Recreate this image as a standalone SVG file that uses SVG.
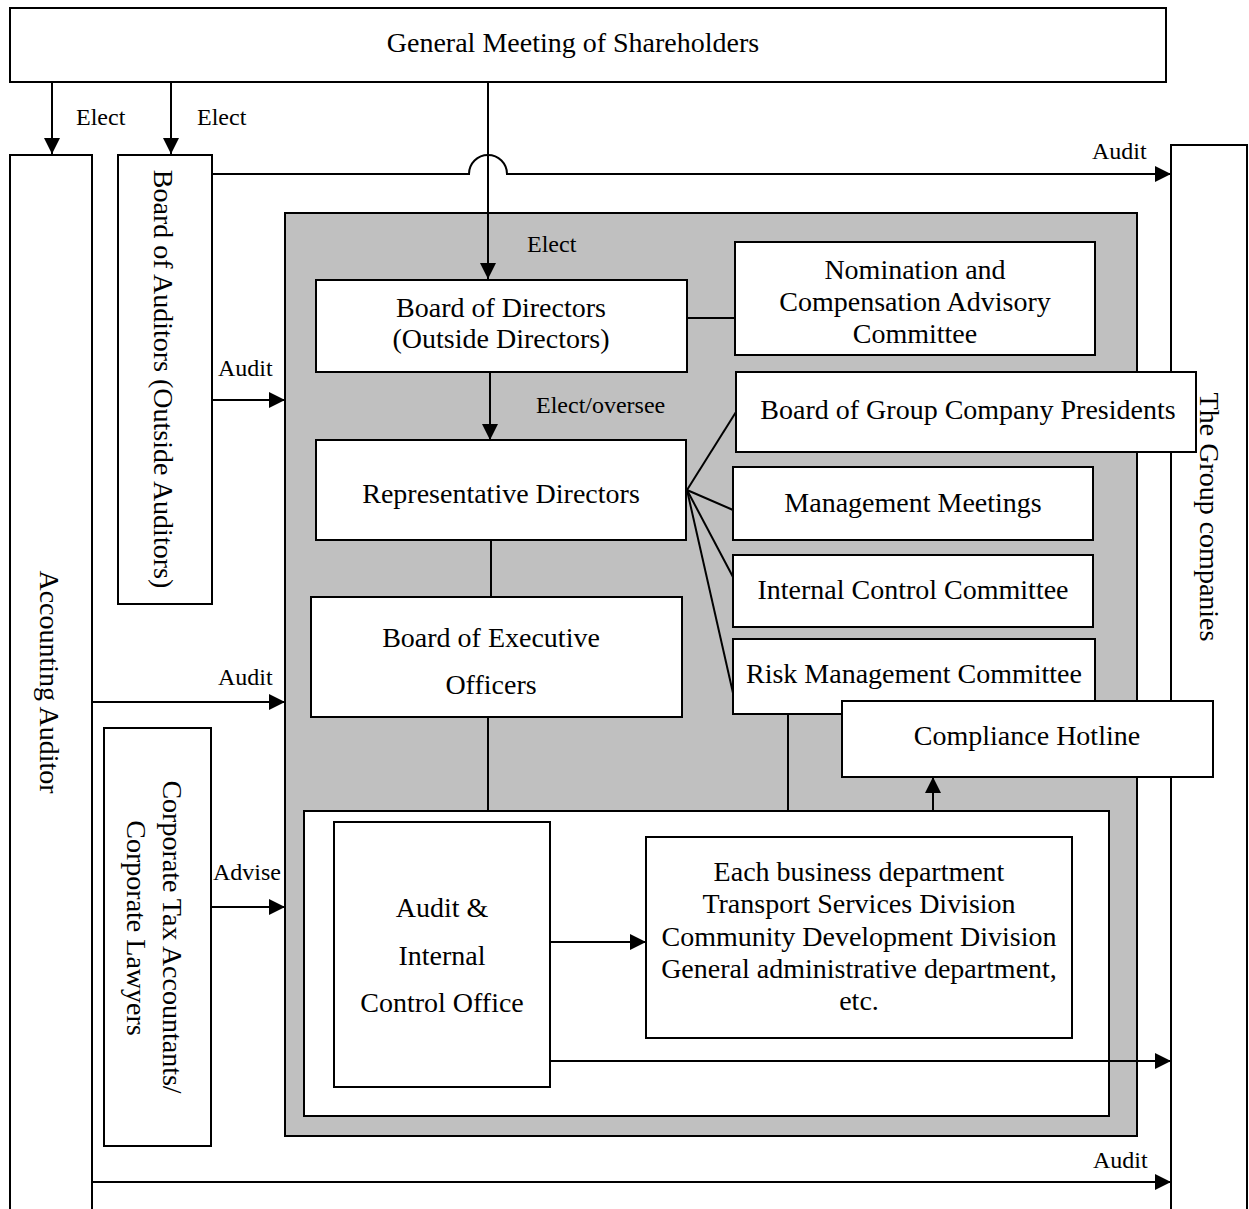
<svg xmlns="http://www.w3.org/2000/svg" width="1249" height="1209" viewBox="0 0 1249 1209">
<style>
  .box { fill: #ffffff; stroke: #000000; stroke-width: 2; }
  .gray { fill: #c0c0c0; stroke: #000000; stroke-width: 2; }
  .ln { fill: none; stroke: #000000; stroke-width: 2; }
  .arr { fill: none; stroke: #000000; stroke-width: 2; marker-end: url(#ah); }
  text { font-family: "Liberation Serif", "Times New Roman", serif; fill: #000000; }
  .big { font-size: 28px; text-anchor: middle; }
  .sm { font-size: 24px; }
</style>
<defs>
  <marker id="ah" markerUnits="userSpaceOnUse" markerWidth="16" markerHeight="16" refX="16" refY="8" orient="auto">
    <path d="M0,0 L16,8 L0,16 z" fill="#000000"/>
  </marker>
</defs>
<rect width="1249" height="1209" fill="#ffffff"/>

<g id="accounting-auditor">
  <rect class="box" x="10" y="155" width="82" height="1070"/>
  <text class="big" transform="translate(40,682) rotate(90)">Accounting Auditor</text>
</g>
<g id="group-companies">
  <rect class="box" x="1171" y="145" width="76" height="1080"/>
  <text class="big" transform="translate(1200,517) rotate(90)">The Group companies</text>
</g>
<g id="board-of-auditors">
  <rect class="box" x="118" y="155" width="94" height="449"/>
  <text class="big" transform="translate(154,379) rotate(90)">Board of Auditors (Outside Auditors)</text>
</g>
<g id="tax-lawyers">
  <rect class="box" x="104" y="728" width="107" height="418"/>
  <text class="big" transform="translate(163,937) rotate(90)">Corporate Tax Accountants/</text>
  <text class="big" transform="translate(127,928) rotate(90)">Corporate Lawyers</text>
</g>
<g id="company">
  <rect class="gray" x="285" y="213" width="852" height="923"/>
</g>
<g id="operations">
  <rect class="box" x="304" y="811" width="805" height="305"/>
</g>
<g id="general-meeting">
  <rect class="box" x="10" y="8" width="1156" height="74"/>
  <text class="big" x="573" y="52">General Meeting of Shareholders</text>
</g>

<g id="connectors">
  <path class="arr" d="M52,82 V154"/>
  <path class="arr" d="M171,82 V154"/>
  <path class="arr" d="M488,82 V279"/>
  <path class="arr" d="M212,174 H469 A19,19 0 0 1 507,174 H1171"/>
  <path class="arr" d="M212,400 H285"/>
  <path class="arr" d="M92,702 H285"/>
  <path class="arr" d="M211,907 H285"/>
  <path class="arr" d="M92,1182 H1171"/>
  <path class="arr" d="M490,372 V440"/>
  <path class="ln" d="M687,318 H735"/>
  <path class="ln" d="M687,490 L736,412"/>
  <path class="ln" d="M687,490 L733,510"/>
  <path class="ln" d="M687,490 L733,577"/>
  <path class="ln" d="M687,490 L733,693"/>
  <path class="ln" d="M491,540 V597"/>
  <path class="ln" d="M488,717 V811"/>
  <path class="ln" d="M788,714 V811"/>
  <path class="arr" d="M933,811 V777"/>
  <path class="arr" d="M550,942 H646"/>
  <path class="arr" d="M550,1061 H1171"/>
  <text class="sm" x="76" y="125">Elect</text>
  <text class="sm" x="197" y="125">Elect</text>
  <text class="sm" x="1092" y="159">Audit</text>
  <text class="sm" x="527" y="252">Elect</text>
  <text class="sm" x="536" y="413">Elect/oversee</text>
  <text class="sm" x="218" y="376">Audit</text>
  <text class="sm" x="218" y="685">Audit</text>
  <text class="sm" x="213" y="880">Advise</text>
  <text class="sm" x="1093" y="1168">Audit</text>
</g>

<g id="board-of-directors">
  <rect class="box" x="316" y="280" width="371" height="92"/>
  <text class="big" x="501" y="317">Board of Directors</text>
  <text class="big" x="501" y="348">(Outside Directors)</text>
</g>
<g id="nomination-committee">
  <rect class="box" x="735" y="242" width="360" height="113"/>
  <text class="big" x="915" y="279">Nomination and</text>
  <text class="big" x="915" y="311">Compensation Advisory</text>
  <text class="big" x="915" y="343">Committee</text>
</g>
<g id="representative-directors">
  <rect class="box" x="316" y="440" width="370" height="100"/>
  <text class="big" x="501" y="503">Representative Directors</text>
</g>
<g id="group-presidents">
  <rect class="box" x="736" y="372" width="460" height="80"/>
  <text class="big" x="968" y="419">Board of Group Company Presidents</text>
</g>
<g id="management-meetings">
  <rect class="box" x="733" y="467" width="360" height="73"/>
  <text class="big" x="913" y="512">Management Meetings</text>
</g>
<g id="internal-control-committee">
  <rect class="box" x="733" y="555" width="360" height="72"/>
  <text class="big" x="913" y="599">Internal Control Committee</text>
</g>
<g id="risk-management-committee">
  <rect class="box" x="733" y="639" width="362" height="75"/>
  <text class="big" x="914" y="683">Risk Management Committee</text>
</g>
<g id="compliance-hotline">
  <rect class="box" x="842" y="701" width="371" height="76"/>
  <text class="big" x="1027" y="745">Compliance Hotline</text>
</g>
<g id="executive-officers">
  <rect class="box" x="311" y="597" width="371" height="120"/>
  <text class="big" x="491" y="647">Board of Executive</text>
  <text class="big" x="491" y="694">Officers</text>
</g>
<g id="audit-office">
  <rect class="box" x="334" y="822" width="216" height="265"/>
  <text class="big" x="442" y="917">Audit &amp;</text>
  <text class="big" x="442" y="965">Internal</text>
  <text class="big" x="442" y="1012">Control Office</text>
</g>
<g id="business-departments">
  <rect class="box" x="646" y="837" width="426" height="201"/>
  <text class="big" x="859" y="881">Each business department</text>
  <text class="big" x="859" y="913">Transport Services Division</text>
  <text class="big" x="859" y="946">Community Development Division</text>
  <text class="big" x="859" y="978">General administrative department,</text>
  <text class="big" x="859" y="1010">etc.</text>
</g>
</svg>
